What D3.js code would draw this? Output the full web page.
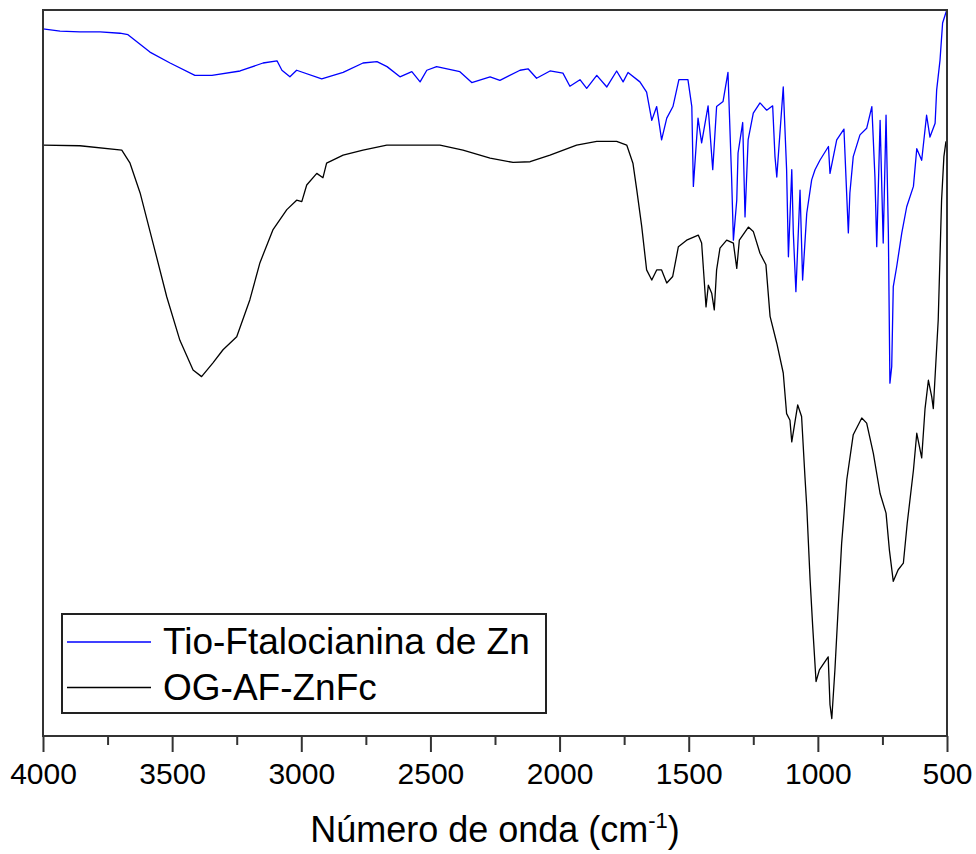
<!DOCTYPE html>
<html lang="es">
<head>
  <meta charset="UTF-8">
  <title>Espectro FTIR</title>
  <script src="https://d3js.org/d3.v7.min.js"></script>
  <style>
    body { margin: 0; background: #fff; }
    svg { font-family: Arial, "Liberation Sans", sans-serif; }
    .spectrum { fill: none; stroke-width: 1.3px; stroke-linejoin: round; }
    .tick text { font-size: 30px; fill: #000; }
    .tick line { stroke: #333; stroke-width: 2px; }
  </style>
</head>
<body>
<svg id="chart" width="976" height="854"></svg>
<script>
// wavenumber (cm-1) and transmittance (a.u.)
const ftalWn = [4000,3934,3857,3779,3702,3671,3586,3508,3412,3346,
  3237,3148,3094,3075,3044,3018,2921,2838,2761,2707,
  2668,2618,2572,2540,2514,2476,2386,2340,2269,2231,
  2153,2122,2089,2037,1987,1960,1921,1895,1856,1817,
  1779,1754,1735,1689,1663,1643,1624,1605,1585,1561,
  1538,1503,1488,1482,1464,1450,1425,1407,1392,1367,
  1348,1334,1327,1314,1309,1291,1282,1270,1250,1224,
  1198,1175,1166,1159,1134,1121,1114,1101,1095,1085,
  1069,1059,1043,1024,1011,992,959,953,927,899,
  888,882,876,863,837,811,791,779,772,759,
  747,736,727,721,714,708,695,675,656,630,
  617,598,579,566,546,540,527,517,501];
const ftalT = [97.4,97.1,97.0,97.0,96.8,96.6,94.2,92.7,91.0,91.0,
  91.6,92.7,93.0,91.7,90.8,91.7,90.5,91.4,92.7,92.9,
  92.2,90.8,91.5,90.1,91.7,92.2,91.5,90.0,90.8,90.3,
  91.7,91.9,90.6,91.6,91.3,89.5,90.4,89.2,91.0,89.4,
  91.6,90.1,91.4,90.1,88.7,84.8,86.7,82.1,85.1,86.7,
  90.4,90.4,86.7,75.7,85.1,81.7,86.8,78.0,86.7,87.4,
  91.4,77.0,68.3,73.8,80.3,84.5,71.5,82.1,85.8,87.2,
  86.2,86.8,79.8,77.0,89.4,78.0,66.0,78.0,69.3,61.2,
  75.2,62.8,72.0,76.6,78.0,79.3,81.2,77.5,82.1,83.6,
  74.3,69.3,74.8,79.8,82.8,83.7,86.7,77.0,67.4,84.8,
  67.9,85.5,69.3,48.6,50.9,61.9,64.6,69.3,72.9,75.7,
  80.9,79.3,85.5,82.5,84.4,89.0,93.1,98.2,100.0];

const ogWn = [4000,3857,3695,3663,3624,3574,3521,3470,3419,3386,
  3342,3303,3250,3199,3160,3110,3056,3018,2998,2979,
  2940,2916,2902,2838,2761,2669,2463,2374,2269,2180,
  2114,2037,1934,1856,1779,1740,1716,1701,1682,1663,
  1643,1624,1605,1585,1562,1540,1508,1463,1450,1441,
  1433,1424,1411,1401,1392,1379,1353,1327,1314,1304,
  1269,1250,1224,1201,1185,1159,1134,1121,1108,1101,
  1078,1063,1050,1043,1030,1020,1007,994,960,953,
  946,934,921,908,888,863,830,811,785,759,
  736,723,708,689,669,654,630,617,598,585,
  572,559,553,534,521,512,504];
const ogT = [81.4,81.3,80.7,78.9,74.8,67.9,60.5,54.5,50.4,49.5,
  51.4,53.2,55.0,60.1,65.2,69.7,72.5,73.8,73.6,75.9,
  77.5,76.9,78.9,80.0,80.7,81.4,81.4,80.7,79.6,79.0,
  79.1,80.0,81.4,81.9,81.9,81.4,78.9,75.2,70.2,64.2,
  62.8,64.2,64.2,62.4,63.3,67.4,68.3,69.0,67.9,63.3,
  59.1,62.1,61.0,58.7,64.2,67.2,68.3,67.9,64.4,68.3,
  70.1,69.5,66.5,64.9,57.8,54.1,50.0,44.4,43.5,40.5,
  45.6,44.0,35.7,31.6,21.5,15.1,7.5,9.1,10.9,4.3,
  2.4,9.1,17.8,26.5,35.3,41.5,43.8,43.1,38.9,33.4,
  30.7,25.6,21.3,22.9,23.8,29.3,36.6,41.7,38.3,45.1,
  49.0,46.7,45.1,57.3,73.8,79.8,81.9];

const majorTicks = [4000, 3500, 3000, 2500, 2000, 1500, 1000, 500];
const minorTicks = [3750, 3250, 2750, 2250, 1750, 1250, 750];
const seriesNames = ["Tio-Ftalocianina de Zn", "OG-AF-ZnFc"];
const seriesColors = ["#0000ff", "#000000"];

const margin = {top: 10, right: 29, bottom: 118, left: 43};
const width = 976 - margin.left - margin.right;
const height = 854 - margin.top - margin.bottom;

const svg = d3.select("#chart")
  .append("g")
  .attr("transform", `translate(${margin.left},${margin.top})`);

const x = d3.scaleLinear().domain([4000, 500]).range([0, width]);
const y = d3.scaleLinear().domain([0, 100]).range([height, 0]);

const line = d3.line()
  .x(d => x(d[0]))
  .y(d => y(d[1]));

// minor ticks
svg.append("g")
  .attr("transform", `translate(0,${height})`)
  .call(d3.axisBottom(x).tickValues(minorTicks).tickSize(9).tickFormat(""))
  .call(g => g.select(".domain").remove());

// major ticks
svg.append("g")
  .attr("transform", `translate(0,${height})`)
  .call(d3.axisBottom(x).tickValues(majorTicks).tickSize(16).tickPadding(11).tickFormat(d3.format("d")))
  .call(g => g.select(".domain").remove());

// spectra: black below, blue on top
const series = [
  {name: seriesNames[1], color: seriesColors[1], values: d3.zip(ogWn, ogT)},
  {name: seriesNames[0], color: seriesColors[0], values: d3.zip(ftalWn, ftalT)}
];

svg.selectAll(".spectrum")
  .data(series)
  .join("path")
  .attr("class", "spectrum")
  .attr("stroke", d => d.color)
  .attr("d", d => line(d.values));

// frame
svg.append("rect")
  .attr("width", width)
  .attr("height", height)
  .attr("fill", "none")
  .attr("stroke", "#333")
  .attr("stroke-width", 2);

// axis title
const title = svg.append("text")
  .attr("x", width / 2)
  .attr("y", height + 106)
  .attr("text-anchor", "middle")
  .style("font-size", "36px");
title.append("tspan").text("Número de onda (cm");
title.append("tspan").attr("dy", -14).style("font-size", "22px").text("-1");
title.append("tspan").attr("dy", 14).text(")");

// legend
const legend = svg.append("g").attr("transform", "translate(19,604)");
legend.append("rect")
  .attr("width", 484)
  .attr("height", 99)
  .attr("fill", "#fff")
  .attr("stroke", "#222")
  .attr("stroke-width", 2);

const items = legend.selectAll(".item")
  .data(seriesNames)
  .join("g")
  .attr("class", "item")
  .attr("transform", (d, i) => `translate(0,${28 + i * 45.5})`);

items.append("line")
  .attr("x1", 5).attr("x2", 89)
  .attr("stroke", (d, i) => seriesColors[i])
  .attr("stroke-width", 1.3);

items.append("text")
  .attr("x", 101)
  .attr("y", 12)
  .style("font-size", "37px")
  .text(d => d);
</script>
</body>
</html>
